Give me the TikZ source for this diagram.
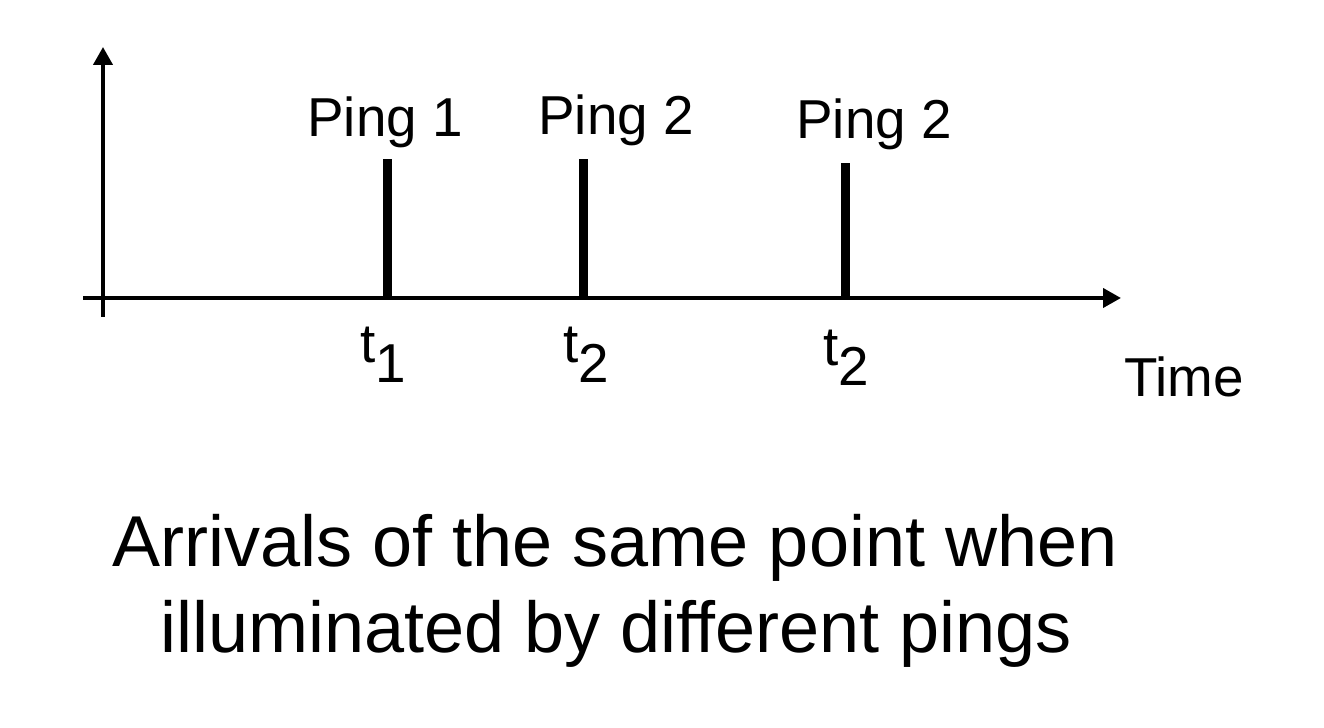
\documentclass[tikz,border=0pt]{standalone}
\usepackage{fontspec}
\setmainfont{Liberation Sans}
\usetikzlibrary{arrows.meta}
\tikzset{
    axis/.style={line width=0.04cm,-{Triangle[length=0.18cm,width=0.19cm]}},
    spike/.style={line width=0.09cm},
    label/.style={anchor=base,inner sep=0pt,font=\fontsize{15.6pt}{18pt}\selectfont},
    caption/.style={anchor=base,inner sep=0pt,font=\fontsize{20.5pt}{24pt}\selectfont}
}
\newcommand{\tsub}[1]{t\raisebox{-0.35em}{#1}}
\begin{document}
\begin{tikzpicture}
        % Fix the page size
        \useasboundingbox (0,0) rectangle (13.24,7.28);
        % Axis end points
        \coordinate (xstart) at (0.83,4.30);
        \coordinate (xend) at (11.21,4.30);
        \coordinate (ystart) at (1.03,4.11);
        \coordinate (yend) at (1.03,6.81);
        % Draw axes
        \draw[axis] (xstart) -- (xend);
        \draw[axis] (ystart) -- (yend);
        % Draw pings
        \coordinate (base1) at (3.87,4.30);
        \coordinate (top1) at (3.87,5.69);
        \coordinate (base2) at (5.83,4.30);
        \coordinate (top2) at (5.83,5.69);
        \coordinate (base3) at (8.45,4.30);
        \coordinate (top3) at (8.45,5.65);
        \draw[spike] (base1) -- (top1);
        \draw[spike] (base2) -- (top2);
        \draw[spike] (base3) -- (top3);
        % Draw ping labels
        \node[label] (ping1) at (3.85,5.91) {Ping 1};
        \node[label] (ping2) at (6.16,5.93) {Ping 2};
        \node[label] (ping3) at (8.74,5.89) {Ping 2};
        % Draw time labels
        \node[label] (t1) at (3.83,3.65) {\tsub{1}};
        \node[label] (t2) at (5.86,3.65) {\tsub{2}};
        \node[label] (t3) at (8.46,3.62) {\tsub{2}};
        \node[label] (time) at (11.84,3.31) {Time};
        % Draw caption
        \node[caption] (caption1) at (6.15,1.61) {Arrivals of the same point when};
        \node[caption] (caption2) at (6.16,0.75) {illuminated by different pings};
    \end{tikzpicture}
\end{document}
